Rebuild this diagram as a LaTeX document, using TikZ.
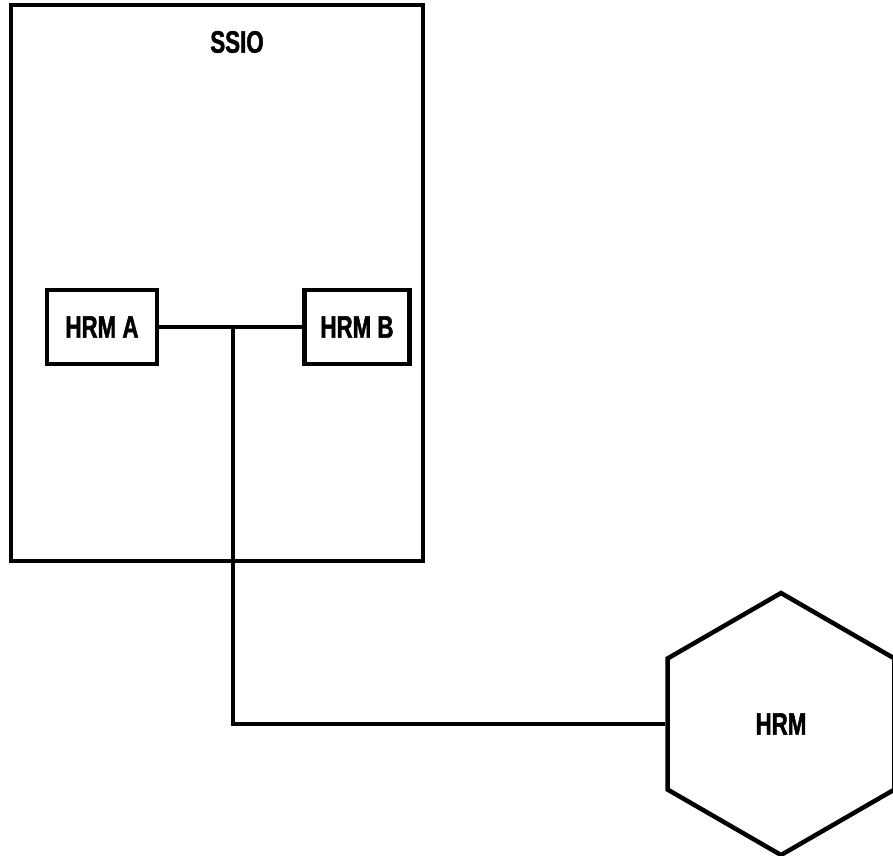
\documentclass[tikz,border=0pt]{standalone}
\usepackage{fontspec}
\setmainfont[FakeStretch=0.72,BoldFont={Liberation Sans Bold},BoldFeatures={FakeBold=1.5}]{Liberation Sans}
\usetikzlibrary{shapes.geometric}
\tikzset{modul/.style={draw,line width=4.5pt,inner sep=0pt},
  beschr/.style={font=\fontsize{31}{34}\selectfont\bfseries}}
\begin{document}
\begin{tikzpicture}[x=1pt,y=-1pt,line width=4.5pt]
\useasboundingbox (0,0) rectangle (893,855);
% Rahmen SSIO
\node[modul,minimum width=412pt,minimum height=556pt] (ssio) at (217,283) {};
\node[beschr] (ssiotext) at (237,42) {SSIO};
% Module A und B
\node[modul,beschr,minimum width=110pt,minimum height=74pt] (hrma) at (102,327) {HRM A};
\node[modul,beschr,minimum width=105pt,minimum height=74pt] (hrmb) at (357,327) {HRM B};
% Sechseck HRM
\node[modul,beschr,regular polygon,regular polygon sides=6,shape border rotate=30,minimum size=262pt] (hrm) at (781,724) {HRM};
\coordinate (abzw) at (233,327);
\draw (hrma) -- (hrmb);
\draw (abzw) |- (hrm.west);
\end{tikzpicture}
\end{document}
